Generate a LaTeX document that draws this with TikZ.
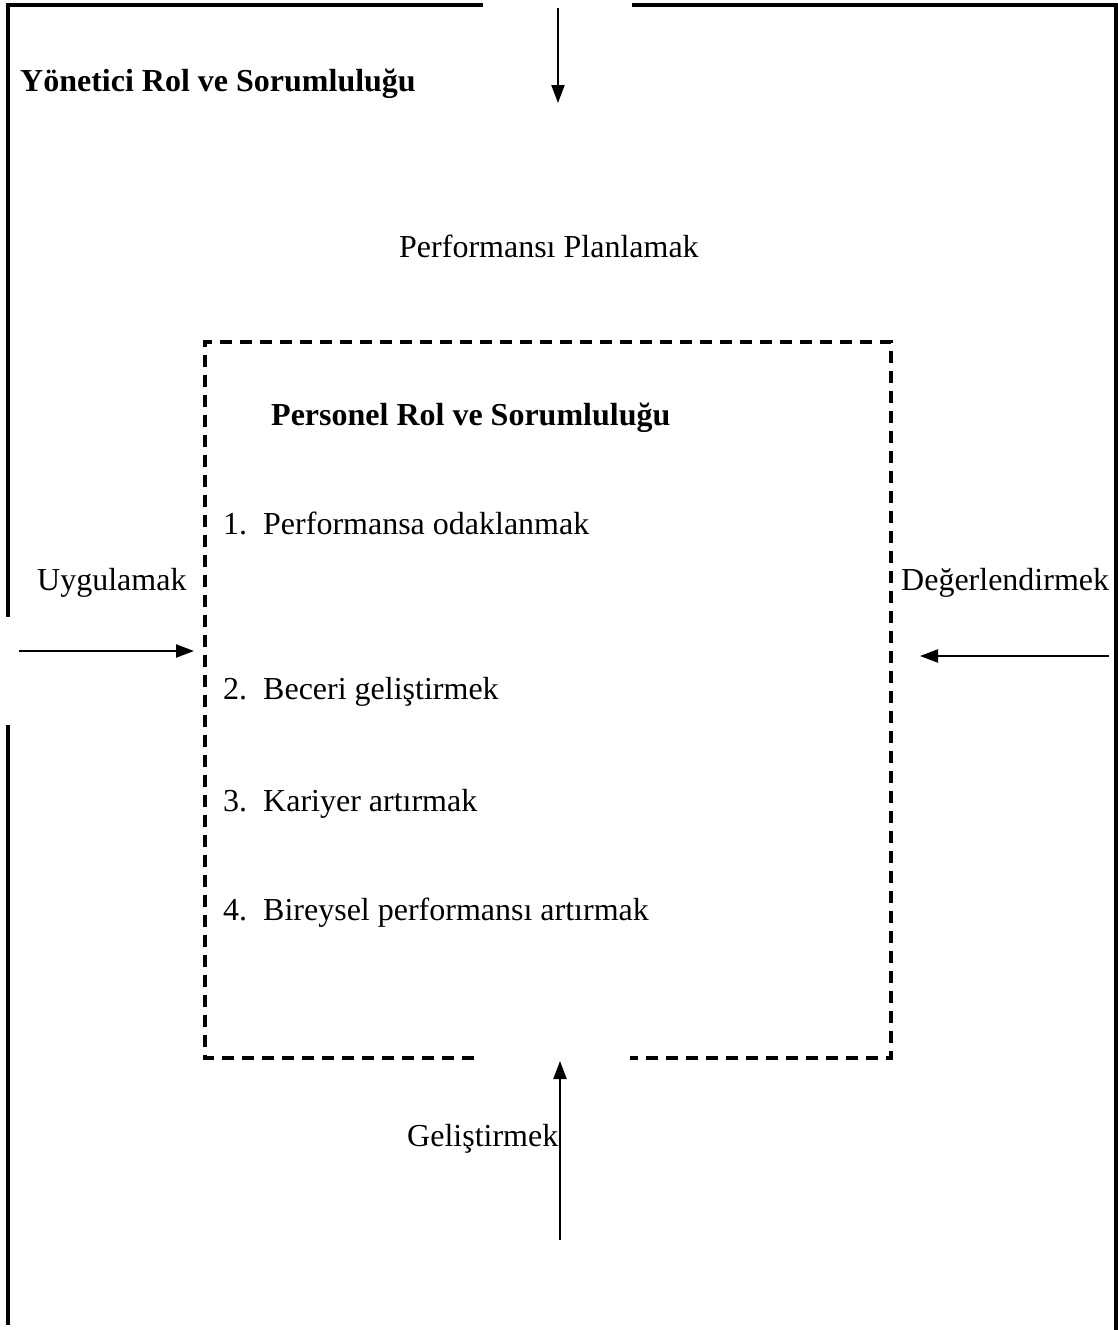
\documentclass[tikz,border=0pt]{standalone}
\usepackage{fontspec}
\setmainfont{Liberation Serif}
\usetikzlibrary{arrows.meta}
\begin{document}
\begin{tikzpicture}[x=1pt,y=-1pt,
  frame/.style={line width=3.2pt},
  dashbox/.style={line width=3.6pt, dash pattern=on 12pt off 8pt},
  flow/.style={line width=2.2pt, -{Triangle[length=18pt,width=13pt]}},
  lbl/.style={font=\fontsize{32}{38}\selectfont, inner sep=0pt, anchor=base west},
  ttl/.style={font=\fontsize{32}{38}\selectfont\bfseries, inner sep=0pt, anchor=base west}]
\useasboundingbox (0,0) rectangle (1118,1330);

% outer frame (manager)
\draw[frame] (483,5) -- (8,5) -- (8,617);
\draw[frame] (632,5) -- (1116,5) -- (1116,1330);
\draw[frame] (8,725) -- (8,1325);

% inner dashed frame (personnel)
\draw[dashbox] (474,1058) -- (205,1058) -- (205,342) -- (891,342) -- (891,1058) -- (630,1058);

% texts
\node[ttl] (yon) at (20,92) {Yönetici Rol ve Sorumluluğu};
\node[lbl] (plan) at (399,257) {Performansı Planlamak};
\node[ttl] (pers) at (271,425) {Personel Rol ve Sorumluluğu};
\node[lbl] (i1) at (223,534) {\makebox[40pt][l]{1.}Performansa odaklanmak};
\node[lbl] (uyg) at (37,590) {Uygulamak};
\node[lbl] (deg) at (901,590) {Değerlendirmek};
\node[lbl] (i2) at (223,699) {\makebox[40pt][l]{2.}Beceri geliştirmek};
\node[lbl] (i3) at (223,811) {\makebox[40pt][l]{3.}Kariyer artırmak};
\node[lbl] (i4) at (223,920) {\makebox[40pt][l]{4.}Bireysel performansı artırmak};
\node[lbl] (gel) at (407,1146) {Geliştirmek};

% arrows
\coordinate (topS) at (558,8);
\coordinate (topE) at (558,103);
\coordinate (leftS) at (19,651);
\coordinate (leftE) at (194,651);
\coordinate (rightS) at (1109,656);
\coordinate (rightE) at (920,656);
\coordinate (botS) at (560,1240);
\coordinate (botE) at (560,1061);
\draw[flow] (topS) -- (topE);
\draw[flow] (leftS) -- (leftE);
\draw[flow] (rightS) -- (rightE);
\draw[flow] (botS) -- (botE);
\end{tikzpicture}
\end{document}
